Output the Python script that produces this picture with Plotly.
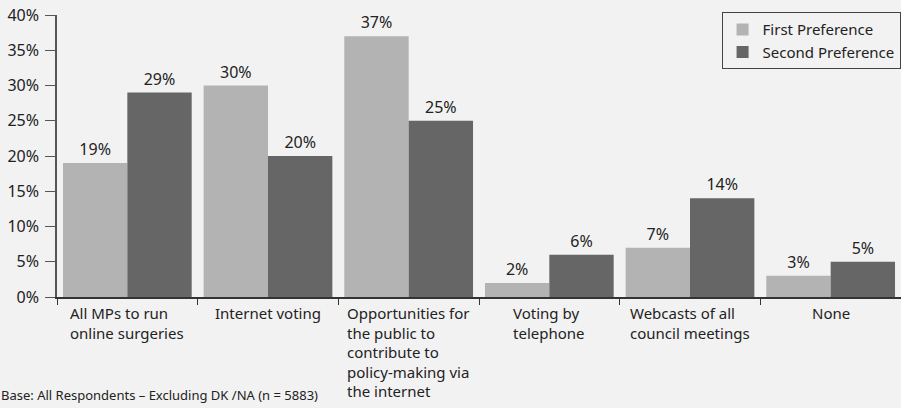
import plotly.graph_objects as go

categories = [
    "All MPs to run<br>online surgeries",
    "Internet voting",
    "Opportunities for<br>the public to<br>contribute to<br>policy-making via<br>the internet",
    "Voting by<br>telephone",
    "Webcasts of all<br>council meetings",
    "None",
]
cat_keys = ["c0", "c1", "c2", "c3", "c4", "c5"]
first_pref = [19, 30, 37, 2, 7, 3]
second_pref = [29, 20, 25, 6, 14, 5]
y_ticks = [0, 5, 10, 15, 20, 25, 30, 35, 40]
footnote = "Base: All Respondents \u2013 Excluding DK /NA (n = 5883)"

FONT = "Noto Sans"
TXT = "#222222"

fig = go.Figure()
fig.add_trace(go.Bar(
    x=cat_keys, y=first_pref, name="First Preference",
    marker=dict(color="#b3b3b3", line=dict(width=0)),
    text=[f"{v}%" for v in first_pref], textposition="outside",
    textfont=dict(family=FONT, size=16, color=TXT), cliponaxis=False,
))
fig.add_trace(go.Bar(
    x=cat_keys, y=second_pref, name="Second Preference",
    marker=dict(color="#666666", line=dict(width=0)),
    text=[f"{v}%" for v in second_pref], textposition="outside",
    textfont=dict(family=FONT, size=16, color=TXT), cliponaxis=False,
))

for k, lab in zip(cat_keys, categories):
    fig.add_annotation(
        x=k, xref="x", y=-0.015, yref="paper", text=lab, showarrow=False,
        xanchor="center", yanchor="top", align="left",
        font=dict(family=FONT, size=15, color=TXT),
    )

fig.add_annotation(
    x=0, xref="paper", y=0, yref="paper", text=footnote, showarrow=False,
    xanchor="left", yanchor="bottom", xshift=-58, yshift=-109,
    font=dict(family=FONT, size=13, color=TXT),
)

fig.update_layout(
    width=901, height=408,
    margin=dict(l=57, r=0, t=15, b=111),
    paper_bgcolor="#f2f2f2", plot_bgcolor="#f2f2f2",
    barmode="group", bargap=0.085, bargroupgap=0,
    legend=dict(
        x=0.9995, xanchor="right", y=1.01, yanchor="top",
        bordercolor="#444444", borderwidth=1, bgcolor="#f2f2f2",
        font=dict(family=FONT, size=15, color=TXT),
        tracegroupgap=0, itemwidth=30,
    ),
    font=dict(family=FONT, size=15, color=TXT),
)
fig.update_xaxes(
    type="category", showticklabels=False, showgrid=False,
    showline=True, linecolor="#333333", linewidth=1.5,
    ticks="outside", tickson="boundaries", ticklen=6, tickcolor="#333333",
)
fig.update_yaxes(
    range=[0, 40], tickvals=y_ticks, ticktext=[f"{v}%" for v in y_ticks],
    showgrid=False, zeroline=False, showline=True, linecolor="#555555", linewidth=1.5,
    ticks="outside", ticklen=10, tickcolor="#555555",
    tickfont=dict(family=FONT, size=16, color=TXT), ticklabelstandoff=3,
)

fig.write_html(
    "out.html",
    config={"displayModeBar": False},
    post_script="document.body.style.margin='0';document.body.style.overflow='hidden';",
)
